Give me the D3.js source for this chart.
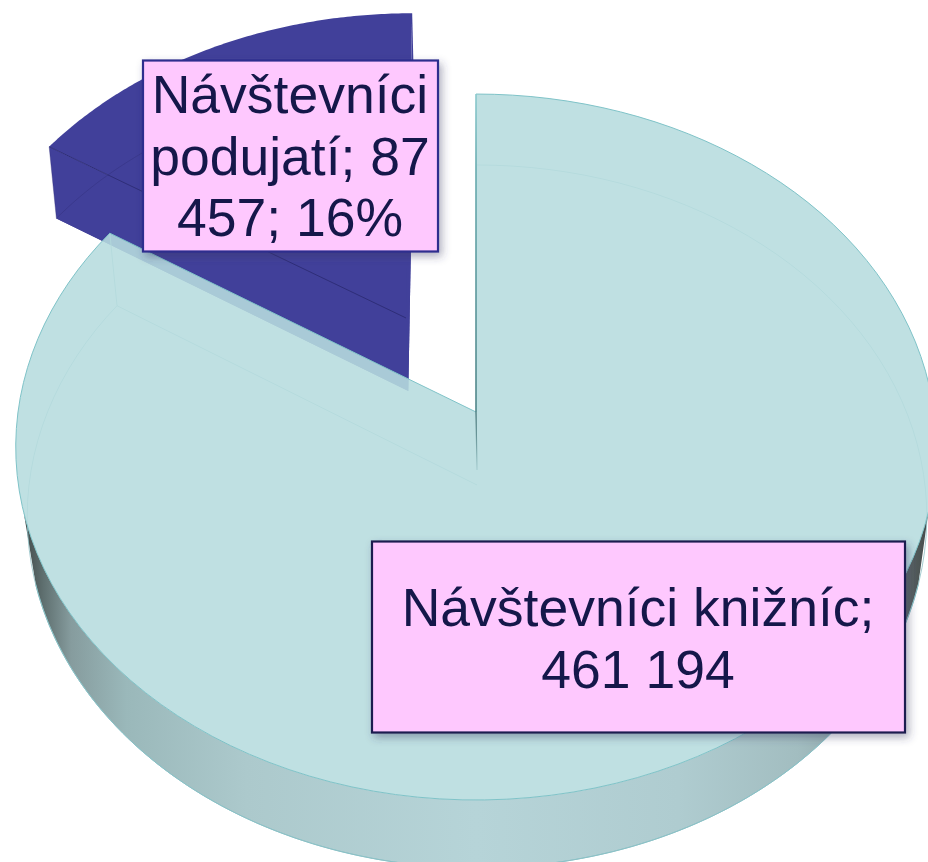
<!DOCTYPE html>
<html>
<head>
<meta charset="utf-8">
<script src="https://cdn.jsdelivr.net/npm/d3@7"></script>
<style>
  html, body { margin: 0; padding: 0; background: #fff; overflow: hidden; }
  svg { display: block; }
  text { font-family: "Liberation Sans", Arial, sans-serif; }
</style>
</head>
<body>
<svg id="chart" width="928" height="862"></svg>
<script>
// ---- DATA ----
const categories = ['Návštevníci knižníc', 'Návštevníci podujatí'];
const visitors = [461194, 87457];
const explode = [0, 0.318];
const bigLabelLines = ['Návštevníci knižníc;', '461\u00a0194'];
const smallLabelLines = ['Návštevníci', 'podujatí; 87', '457; 16%'];

const svg = d3.select('#chart');
const defs = svg.append('defs');

// ---- PERSPECTIVE ----
// top and bottom plane of the disc, each a projected unit circle
const topPlane = { x0: 476, y0: 412, a: 458, b: 349.5, k: 0.0992 };
const botPlane = { x0: 477, y0: 485, a: 448, b: 348.7, k: 0.0896 };
const rimScale = [1, 1.01];
const explodeTilt = -0.016;

function project(plane, angle, r, ex) {
  const u = r * Math.sin(angle) + ex.u;
  const v = -r * Math.cos(angle) + ex.v;
  const w = 1 - plane.k * v;
  return [plane.x0 + plane.a * u / w, plane.y0 + plane.b * v / w];
}

const line = d3.line();
const pie = d3.pie().sort(null)(visitors);
const slices = pie.map((d, i) => {
  const mid = (d.startAngle + d.endAngle) / 2 + explodeTilt;
  return { ...d, rim: rimScale[i], ex: { u: explode[i] * Math.sin(mid), v: -explode[i] * Math.cos(mid) } };
});

function arcPoints(plane, a0, a1, s) {
  const n = 120;
  return d3.range(n + 1).map(i => project(plane, a0 + (a1 - a0) * i / n, s.rim, s.ex));
}

function wedgePoints(plane, s) {
  const apex = project(plane, 0, 0, s.ex);
  return [apex, ...arcPoints(plane, s.startAngle, s.endAngle, s), apex];
}

// ---- SMALL SLICE ----
const small = slices[1];
const smallTop = wedgePoints(topPlane, small);
const smallBot = wedgePoints(botPlane, small);
const darkFill = '#41409a';
const darkLine = '#2f2e78';
const gDark = svg.append('g');

gDark.append('path').attr('d', line(smallBot) + 'Z').attr('fill', darkFill);
gDark.append('path').attr('d', line(smallTop) + 'Z').attr('fill', darkFill);
// cut faces
const sApexT = project(topPlane, 0, 0, small.ex);
const sApexB = project(botPlane, 0, 0, small.ex);
const sRimT = project(topPlane, small.startAngle, small.rim, small.ex);
const sRimB = project(botPlane, small.startAngle, small.rim, small.ex);
gDark.append('path').attr('d', line([sApexT, sRimT, sRimB, sApexB]) + 'Z').attr('fill', darkFill);
gDark.append('path').attr('d', line([sApexT, sApexB, project(botPlane, small.endAngle, small.rim, small.ex), project(topPlane, small.endAngle, small.rim, small.ex)]) + 'Z').attr('fill', darkFill);
gDark.append('path').attr('d', line(arcPoints(botPlane, small.startAngle, small.endAngle, small)))
  .attr('fill', 'none').attr('stroke', darkLine).attr('stroke-width', 0.7).attr('stroke-opacity', 0.6);
gDark.append('path').attr('d', line([sRimT, sApexT]))
  .attr('fill', 'none').attr('stroke', darkLine).attr('stroke-width', 1);
gDark.append('path').attr('d', line([sRimB, sRimT]))
  .attr('fill', 'none').attr('stroke', darkLine).attr('stroke-width', 0.6).attr('stroke-opacity', 0.6);

// ---- BIG SLICE ----
const big = slices[0];
const edgeTeal = '#7fc3c8';
const gBig = svg.append('g');

const wallGrad = defs.append('linearGradient').attr('id', 'wallGrad')
  .attr('gradientUnits', 'userSpaceOnUse')
  .attr('x1', 16).attr('y1', 0).attr('x2', 936).attr('y2', 0);
[[0.005, '#3c4444'], [0.03, '#5f7070'], [0.06, '#869c9e'], [0.12, '#9ab8ba'], [0.25, '#acc9cc'],
 [0.5, '#b6d4d8'], [0.72, '#afccd0'], [0.85, '#a2bdc0'], [0.93, '#8aa2a3'], [0.97, '#5a6464'], [1, '#3a3f3f']]
  .forEach(d => wallGrad.append('stop').attr('offset', d[0]).attr('stop-color', d[1]));

// front wall, between the crossings of the two rims
const wallStart = Math.PI * 0.59;
const wallEnd = Math.PI * 1.41;
const wallTop = arcPoints(topPlane, wallStart, wallEnd, big);
const wallBot = arcPoints(botPlane, wallStart, wallEnd, big);
gBig.append('path').attr('d', line([...wallTop, ...wallBot.slice().reverse()]) + 'Z')
  .attr('fill', 'url(#wallGrad)');
gBig.append('path').attr('d', line(wallBot)).attr('fill', 'none')
  .attr('stroke', edgeTeal).attr('stroke-width', 1);

// bottom outline, seen through the top face
const botWedge = wedgePoints(botPlane, big);
gBig.append('path').attr('d', line(botWedge.slice(1, -1))).attr('fill', 'none')
  .attr('stroke', '#8fbfc4').attr('stroke-width', 0.8);
gBig.append('path').attr('d', line([botWedge[0], botWedge[botWedge.length - 2]])).attr('fill', 'none')
  .attr('stroke', '#8fbfc4').attr('stroke-width', 0.8);
gBig.append('path').attr('d', line([project(topPlane, big.endAngle, 1, big.ex), project(botPlane, big.endAngle, 1, big.ex)]))
  .attr('fill', 'none').attr('stroke', '#8fbfc4').attr('stroke-width', 0.8);

// top face
gBig.append('path').attr('d', line(wedgePoints(topPlane, big)) + 'Z')
  .attr('fill', '#b7dcde').attr('fill-opacity', 0.885)
  .attr('stroke', edgeTeal).attr('stroke-width', 1);

// cut at the top of the disc, dark towards the centre
const cutGrad = defs.append('linearGradient').attr('id', 'cutGrad')
  .attr('gradientUnits', 'userSpaceOnUse')
  .attr('x1', 0).attr('y1', 94).attr('x2', 0).attr('y2', 470);
cutGrad.append('stop').attr('offset', 0).attr('stop-color', '#8fcbcf');
cutGrad.append('stop').attr('offset', 0.2).attr('stop-color', '#5fa3a7');
cutGrad.append('stop').attr('offset', 0.85).attr('stop-color', '#3f6f72');
cutGrad.append('stop').attr('offset', 1).attr('stop-color', '#a8cfd2');
gBig.append('path')
  .attr('d', line([project(topPlane, 0, 1, big.ex), project(topPlane, 0, 0, big.ex), [project(botPlane, 0, 0, big.ex)[0], 470]]))
  .attr('fill', 'none').attr('stroke', 'url(#cutGrad)').attr('stroke-width', 1.2);

// ---- LABELS ----
const shadow = defs.append('filter').attr('id', 'boxShadow')
  .attr('x', '-10%').attr('y', '-10%').attr('width', '125%').attr('height', '125%');
shadow.append('feDropShadow').attr('dx', 3).attr('dy', 4).attr('stdDeviation', 4.5)
  .attr('flood-color', '#3a3a60').attr('flood-opacity', 0.4);

const labelBoxes = [
  { x: 143, y: 60.5, w: 295, h: 191, stroke: '#2e2e8e', lines: smallLabelLines, base: 113, cx: 290 },
  { x: 372, y: 541.5, w: 533, h: 191, stroke: '#1c1c50', lines: bigLabelLines, base: 626, cx: 638 }
];
const labels = svg.selectAll('g.label').data(labelBoxes).join('g').attr('class', 'label');
labels.append('rect')
  .attr('x', d => d.x).attr('y', d => d.y)
  .attr('width', d => d.w).attr('height', d => d.h)
  .attr('fill', '#fec8fe').attr('stroke', d => d.stroke).attr('stroke-width', 2.2)
  .attr('filter', 'url(#boxShadow)');
labels.each(function(d) {
  d3.select(this).selectAll('text').data(d.lines).join('text')
    .attr('x', d.cx)
    .attr('y', (t, i) => d.base + i * 61.5)
    .attr('text-anchor', 'middle')
    .attr('font-size', 53.5)
    .attr('fill', '#15174a')
    .text(t => t);
});
</script>
</body>
</html>
